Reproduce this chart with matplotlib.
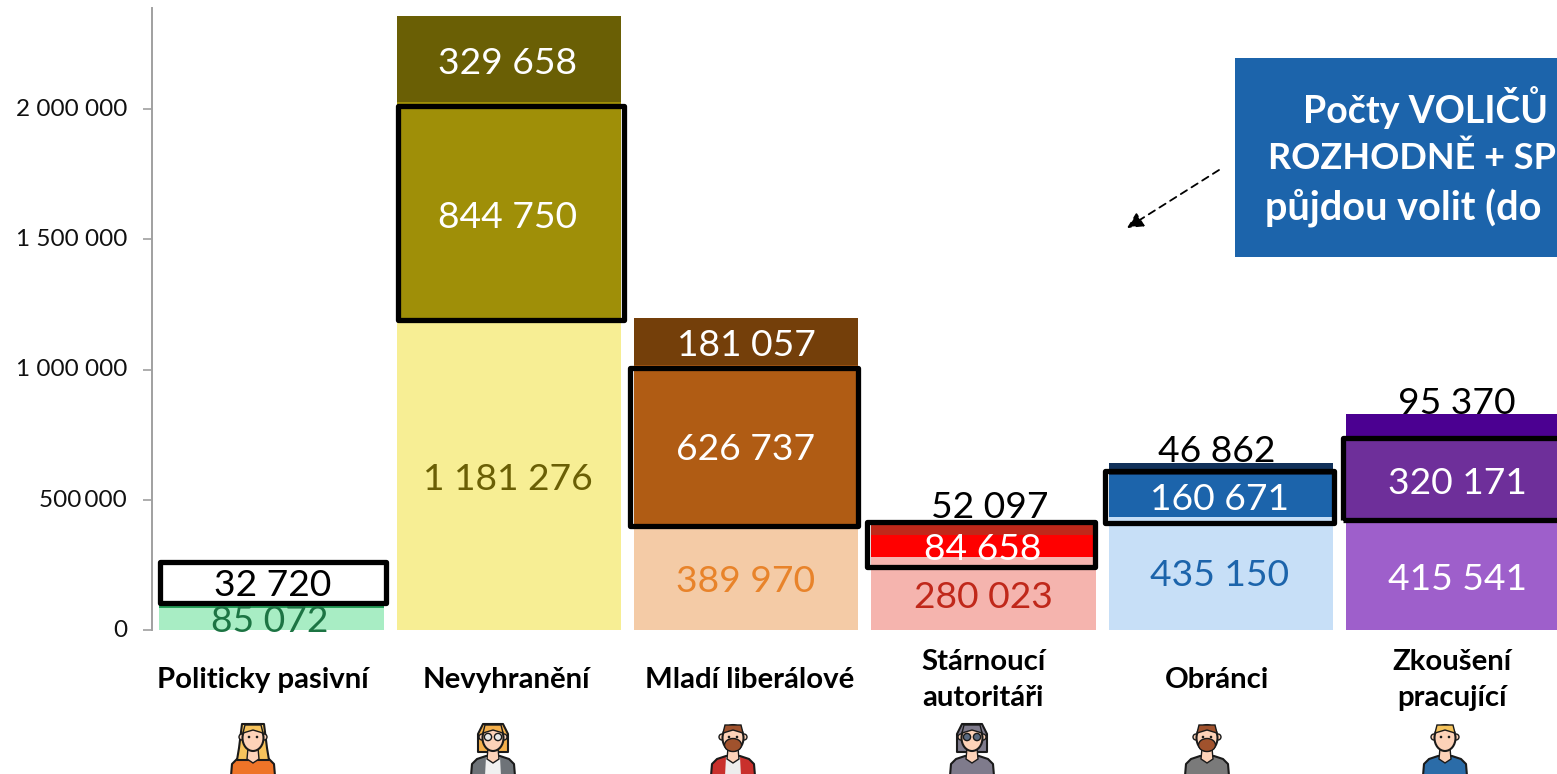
import matplotlib
matplotlib.use('Agg')
import matplotlib.pyplot as plt
from matplotlib.patches import Rectangle, Ellipse, Polygon, Circle
from matplotlib.transforms import ScaledTranslation

# hodnoty
categories = ["Politicky pasivní", "Nevyhranění", "Mladí liberálové",
              "Stárnoucí\nautoritáři", "Obránci", "Zkoušení\npracující"]
low_values = [85072, 1181276, 389970, 280023, 435150, 415541]
mid_values = [32720, 844750, 626737, 84658, 160671, 320171]
top_values = [0, 329658, 181057, 52097, 46862, 95370]
tick_values = [0, 500000, 1000000, 1500000, 2000000]
tick_labels = ["0", "500\u2009000", "1 000 000", "1 500 000", "2 000 000"]

low_colors = ["#A8EDC4", "#F7EE94", "#F4CBA6", "#F5B4AE", "#C7DFF7", "#9E5FCB"]
mid_colors = ["#27A05A", "#9F8F08", "#B05C14", "#FF0000", "#1C64AB", "#6E2F9A"]
top_colors = ["#27A05A", "#6A5F05", "#743F0A", "#C0281A", "#11315A", "#4B0091"]
low_text = ["#1C7443", "#6A5F05", "#E8832A", "#C0281A", "#1C64AB", "white"]

W, H = 1557, 774
Y0, Y_TOP = 630, 8
LEFT = 152
STEP = 237.3
PX_PER_UNIT = 130.25 / 500000
INK = '#1A1A1A'
SKIN = '#FDD2B8'

plt.rcParams['font.family'] = ['Lato', 'DejaVu Sans']


def px_to_x(px):
    return (px - 271.5) / STEP


def py_to_y(py):
    return (Y0 - py) / PX_PER_UNIT


def draw_outline_box(ax, x0, x1, y0, y1, fill='none', zorder=4):
    ax.add_patch(Rectangle((px_to_x(x0), py_to_y(y1)), px_to_x(x1) - px_to_x(x0),
                           py_to_y(y0) - py_to_y(y1), facecolor=fill, edgecolor='black',
                           linewidth=3.8, zorder=zorder, clip_on=False, joinstyle='round'))


def draw_person(ov, cx, hair, shirt, long_hair=False, bob=False, beard=None, glasses=None, inner=None):
    # mala postava dole pod popiskem, oriznuta spodnim okrajem
    lw = 1.5
    ov.add_patch(Polygon([(cx - 22, 776), (cx - 21, 764), (cx - 16, 759), (cx - 7, 756), (cx + 7, 756),
                          (cx + 16, 759), (cx + 21, 764), (cx + 22, 776)],
                         facecolor=shirt, edgecolor=INK, lw=lw, joinstyle='round'))
    if inner:
        ov.add_patch(Polygon([(cx - 8, 776), (cx - 7, 757), (cx + 7, 757), (cx + 8, 776)],
                             facecolor=inner, edgecolor='none'))
    if long_hair:
        ov.add_patch(Polygon([(cx - 11, 724), (cx + 11, 724), (cx + 14, 748), (cx + 16, 760), (cx - 16, 760), (cx - 14, 748)],
                             facecolor=hair, edgecolor=INK, lw=lw, joinstyle='round'))
    if bob:
        ov.add_patch(Polygon([(cx - 10, 724), (cx + 10, 724), (cx + 15, 734), (cx + 15, 752), (cx - 15, 752), (cx - 15, 734)],
                             facecolor=hair, edgecolor=INK, lw=lw, joinstyle='round'))
    ov.add_patch(Polygon([(cx - 5, 748), (cx + 5, 748), (cx + 6, 759), (cx, 763), (cx - 6, 759)], facecolor=SKIN, edgecolor=INK, lw=1.0))
    ov.add_patch(Circle((cx - 11, 737), 3, facecolor=SKIN, edgecolor=INK, lw=1.0))
    ov.add_patch(Circle((cx + 11, 737), 3, facecolor=SKIN, edgecolor=INK, lw=1.0))
    ov.add_patch(Ellipse((cx, 738), 21, 26, facecolor=SKIN, edgecolor=INK, lw=lw))
    if beard:
        ov.add_patch(Ellipse((cx, 745), 17, 13, facecolor=beard, edgecolor=INK, lw=1.0))
    ov.add_patch(Polygon([(cx - 10, 733), (cx - 8, 725), (cx + 8, 725), (cx + 10, 733), (cx, 730)],
                         facecolor=hair, edgecolor=INK, lw=1.0))
    if glasses:
        ov.add_patch(Circle((cx - 5, 737), 3.6, facecolor=glasses, edgecolor=INK, lw=1.0))
        ov.add_patch(Circle((cx + 5, 737), 3.6, facecolor=glasses, edgecolor=INK, lw=1.0))
    else:
        ov.add_patch(Circle((cx - 4, 737), 1.3, facecolor=INK, edgecolor='none'))
        ov.add_patch(Circle((cx + 4, 737), 1.3, facecolor=INK, edgecolor='none'))


fig = plt.figure(figsize=(W / 100, H / 100), dpi=100)
ax = fig.add_axes([LEFT / W, (H - Y0) / H, (W - LEFT) / W, (Y0 - Y_TOP) / H])
ax.set_xlim(px_to_x(LEFT), px_to_x(W))
ax.set_ylim(0, (Y0 - Y_TOP) / PX_PER_UNIT)

x = list(range(len(categories)))
bottoms_mid = low_values
bottoms_top = [a + b for a, b in zip(low_values, mid_values)]
ax.bar(x, low_values, width=0.945, color=low_colors, zorder=2)
ax.bar(x, mid_values, width=0.945, bottom=bottoms_mid, color=mid_colors, zorder=2)
ax.bar(x, top_values, width=0.945, bottom=bottoms_top, color=top_colors, zorder=2)

for s in ['top', 'right', 'bottom']:
    ax.spines[s].set_visible(False)
ax.spines['left'].set_color('#A0A0A0')
ax.spines['left'].set_linewidth(1.4)
ax.set_xticks([])
ax.set_yticks(tick_values)
ax.set_yticklabels(tick_labels, fontsize=17.5, color='#111111')
ax.tick_params(axis='y', length=6.5, width=1.2, color='#A0A0A0', pad=11.5)
nudge = ScaledTranslation(0, 1.5 / 100, fig.dpi_scale_trans)
for lab in ax.get_yticklabels():
    lab.set_transform(lab.get_transform() + nudge)

# ramecky kolem prostrednich segmentu
draw_outline_box(ax, 160, 386, 562, 603, fill='white', zorder=3)
draw_outline_box(ax, 398, 624, 106, 320)
draw_outline_box(ax, 630, 858, 368, 526)
draw_outline_box(ax, 867, 1095, 522, 567)
draw_outline_box(ax, 1105, 1334, 471, 523)
draw_outline_box(ax, 1343, 1575, 438, 520)


def value_label(i, py, value, color):
    txt = f"{value:,}".replace(",", " ")
    ax.text(px_to_x(py[0]), py_to_y(py[1]), txt, ha='center', va='center',
            fontsize=26.8, color=color, zorder=6, clip_on=False)


low_pos = [(270, 622), (508, 480), (746, 582), (983, 598), (1220, 576), (1457, 579)]
mid_pos = [(273, 585), (508, 217), (746, 450), (983, 550), (1220, 499), (1457, 484)]
top_pos = [None, (508, 64), (746, 345), (990, 507), (1217, 451), (1457, 403)]
mid_text = ["black", "white", "white", "white", "white", "white"]
top_text = [None, "white", "white", "black", "black", "black"]
for i in x:
    value_label(i, low_pos[i], low_values[i], low_text[i])
    value_label(i, mid_pos[i], mid_values[i], mid_text[i])
    if top_pos[i]:
        value_label(i, top_pos[i], top_values[i], top_text[i])

# popisky kategorii
label_px = [262.5, 506.5, 749.5, 983, 1217.5, 1452]
for i, name in enumerate(categories):
    ax.text(px_to_x(label_px[i]), py_to_y(680), name, ha='center', va='center', fontsize=21.2,
            fontweight='bold', color='black', linespacing=1.45, clip_on=False)

ov = fig.add_axes([0, 0, 1, 1], facecolor='none')
ov.set_xlim(0, W)
ov.set_ylim(H, 0)
ov.axis('off')
ov.add_patch(Rectangle((1235, 58), 330, 199, facecolor='#1C64AB', edgecolor='none'))
note_lines = ["Počty VOLIČŮ –", "ROZHODNĚ + SP", "půjdou volit (do"]
note_px = [(1303, 108), (1268, 158), (1265, 208)]
note_sizes = [27, 26, 28.5]
for line, (nx, ny), size in zip(note_lines, note_px, note_sizes):
    ov.text(nx, ny, line, ha='left', va='center', color='white', fontsize=size, fontweight='bold')
ov.annotate("", xy=(1127, 228), xytext=(1219, 170),
            arrowprops=dict(arrowstyle='-|>', linestyle=(0, (4, 3)), color='black', lw=1.3,
                            mutation_scale=24, shrinkA=0, shrinkB=0))

draw_person(ov, 253, '#F7C35C', '#EE7428', long_hair=True, inner='#EE7428')
draw_person(ov, 493, '#F5B04C', '#6E7378', bob=True, glasses='#E8E8E8', inner='#F0F0F0')
draw_person(ov, 733, '#A0522D', '#C9302C', beard='#A0522D', inner='#EDEDED')
draw_person(ov, 972, '#7F7B8C', '#7F7B8C', bob=True, glasses='#5A6A80')
draw_person(ov, 1207, '#A0522D', '#7A7A7A', beard='#A0522D')
draw_person(ov, 1445, '#F5C35C', '#2B6CA8')

fig.savefig('out.png', dpi=100)
